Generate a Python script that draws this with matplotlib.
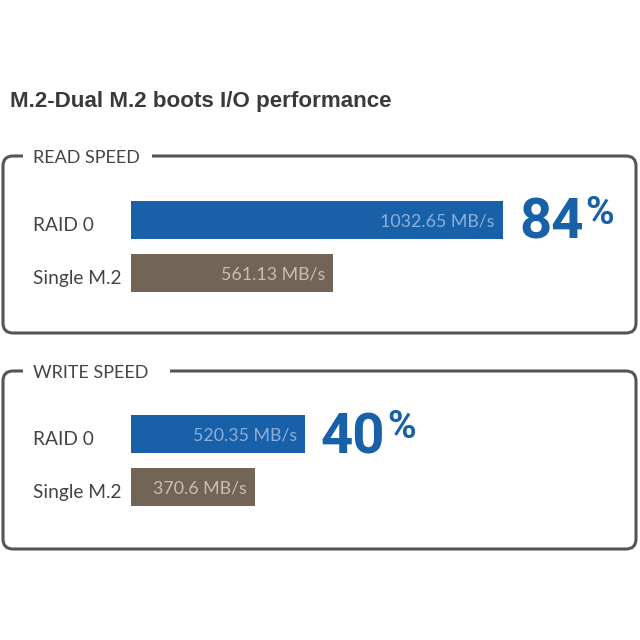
import matplotlib
matplotlib.use("Agg")
import matplotlib.pyplot as plt
from matplotlib.patches import FancyBboxPatch, Rectangle
from matplotlib.transforms import blended_transform_factory

# ---- data ----
title = "M.2-Dual M.2 boots I/O performance"
panel_titles = ["READ SPEED", "WRITE SPEED"]
categories = ["RAID 0", "Single M.2"]
read_speed = [1032.65, 561.13]
write_speed = [520.35, 370.6]
value_labels_read = ["1032.65 MB/s", "561.13 MB/s"]
value_labels_write = ["520.35 MB/s", "370.6 MB/s"]
gain_labels = ["84", "40"]

# ---- style ----
BLUE = "#1860a8"
BROWN = "#736458"
TXT_ON = ["#8cafdc", "#c8beb4"]
LABEL_C = "#444444"
LINE_C = "#555555"
LABEL_FONT = ["Lato", "DejaVu Sans"]

W = H = 640
fig = plt.figure(figsize=(6.4, 6.4), dpi=100)
bg = fig.add_axes([0, 0, 1, 1])
bg.set_xlim(0, W)
bg.set_ylim(H, 0)
bg.axis("off")

bg.text(10, 107, title, fontsize=16.1, fontweight="bold", color="#3a3a3a",
        family=["Liberation Sans", "DejaVu Sans"], va="baseline", ha="left")

# panel layout (pixels)
panels = [
    dict(box=(3, 156, 633, 177), gap=(23, 152), centers_top=193.0, xmax=1404.6,
         values=read_speed, labels=value_labels_read),
    dict(box=(3, 371, 633, 178), gap=(23, 170), centers_top=407.5, xmax=1513.0,
         values=write_speed, labels=value_labels_write),
]
ROW = 53.0
BAR_H = 38.0 / ROW

for i, p in enumerate(panels):
    x0, y0, bw, bh = p["box"]
    bg.add_patch(FancyBboxPatch((x0, y0), bw, bh,
                                boxstyle="round,pad=0,rounding_size=10",
                                fc="none", ec=LINE_C, lw=2.2, zorder=1))
    g0, g1 = p["gap"]
    bg.add_patch(Rectangle((g0, y0 - 4), g1 - g0, 8, fc="white", ec="none", zorder=2))
    bg.text(33, y0 + 7, panel_titles[i], fontsize=13, color=LABEL_C,
            family=LABEL_FONT, va="baseline", ha="left", zorder=3)

    top = p["centers_top"]
    ax = fig.add_axes([131 / W, 1 - (top + 2 * ROW) / H, 506 / W, 2 * ROW / H])
    ax.set_xlim(0, p["xmax"])
    ax.set_ylim(1.5, -0.5)
    ax.axis("off")
    ypos = list(range(len(categories)))
    ax.barh(ypos, p["values"], height=BAR_H, color=[BLUE, BROWN], edgecolor="none")

    trans = blended_transform_factory(fig.transFigure, ax.transData)
    for j, (cat, v, lab) in enumerate(zip(categories, p["values"], p["labels"])):
        ax.annotate(cat, xy=(33 / W, j), xycoords=trans, xytext=(0, -8),
                    textcoords="offset points", fontsize=13.8, color=LABEL_C,
                    family=LABEL_FONT, ha="left", va="baseline")
        ax.annotate(lab, xy=(v, j), xytext=(-6, -5), textcoords="offset points",
                    fontsize=12.8, color=TXT_ON[j], family=LABEL_FONT,
                    ha="right", va="baseline")

    v0 = p["values"][0]
    t = ax.annotate(gain_labels[i], xy=(v0, BAR_H / 2), xytext=(11.5, 0),
                    textcoords="offset points", fontsize=40.5, fontweight="bold",
                    color=BLUE, family=["Roboto", "DejaVu Sans"],
                    ha="left", va="baseline")
    ax.annotate("%", xy=(1, 1), xycoords=t, xytext=(1.5, 2),
                textcoords="offset points", fontsize=28, fontweight="bold",
                color=BLUE, family=["Roboto", "DejaVu Sans"],
                ha="left", va="top")

fig.savefig("out.png", dpi=100, facecolor="white")
